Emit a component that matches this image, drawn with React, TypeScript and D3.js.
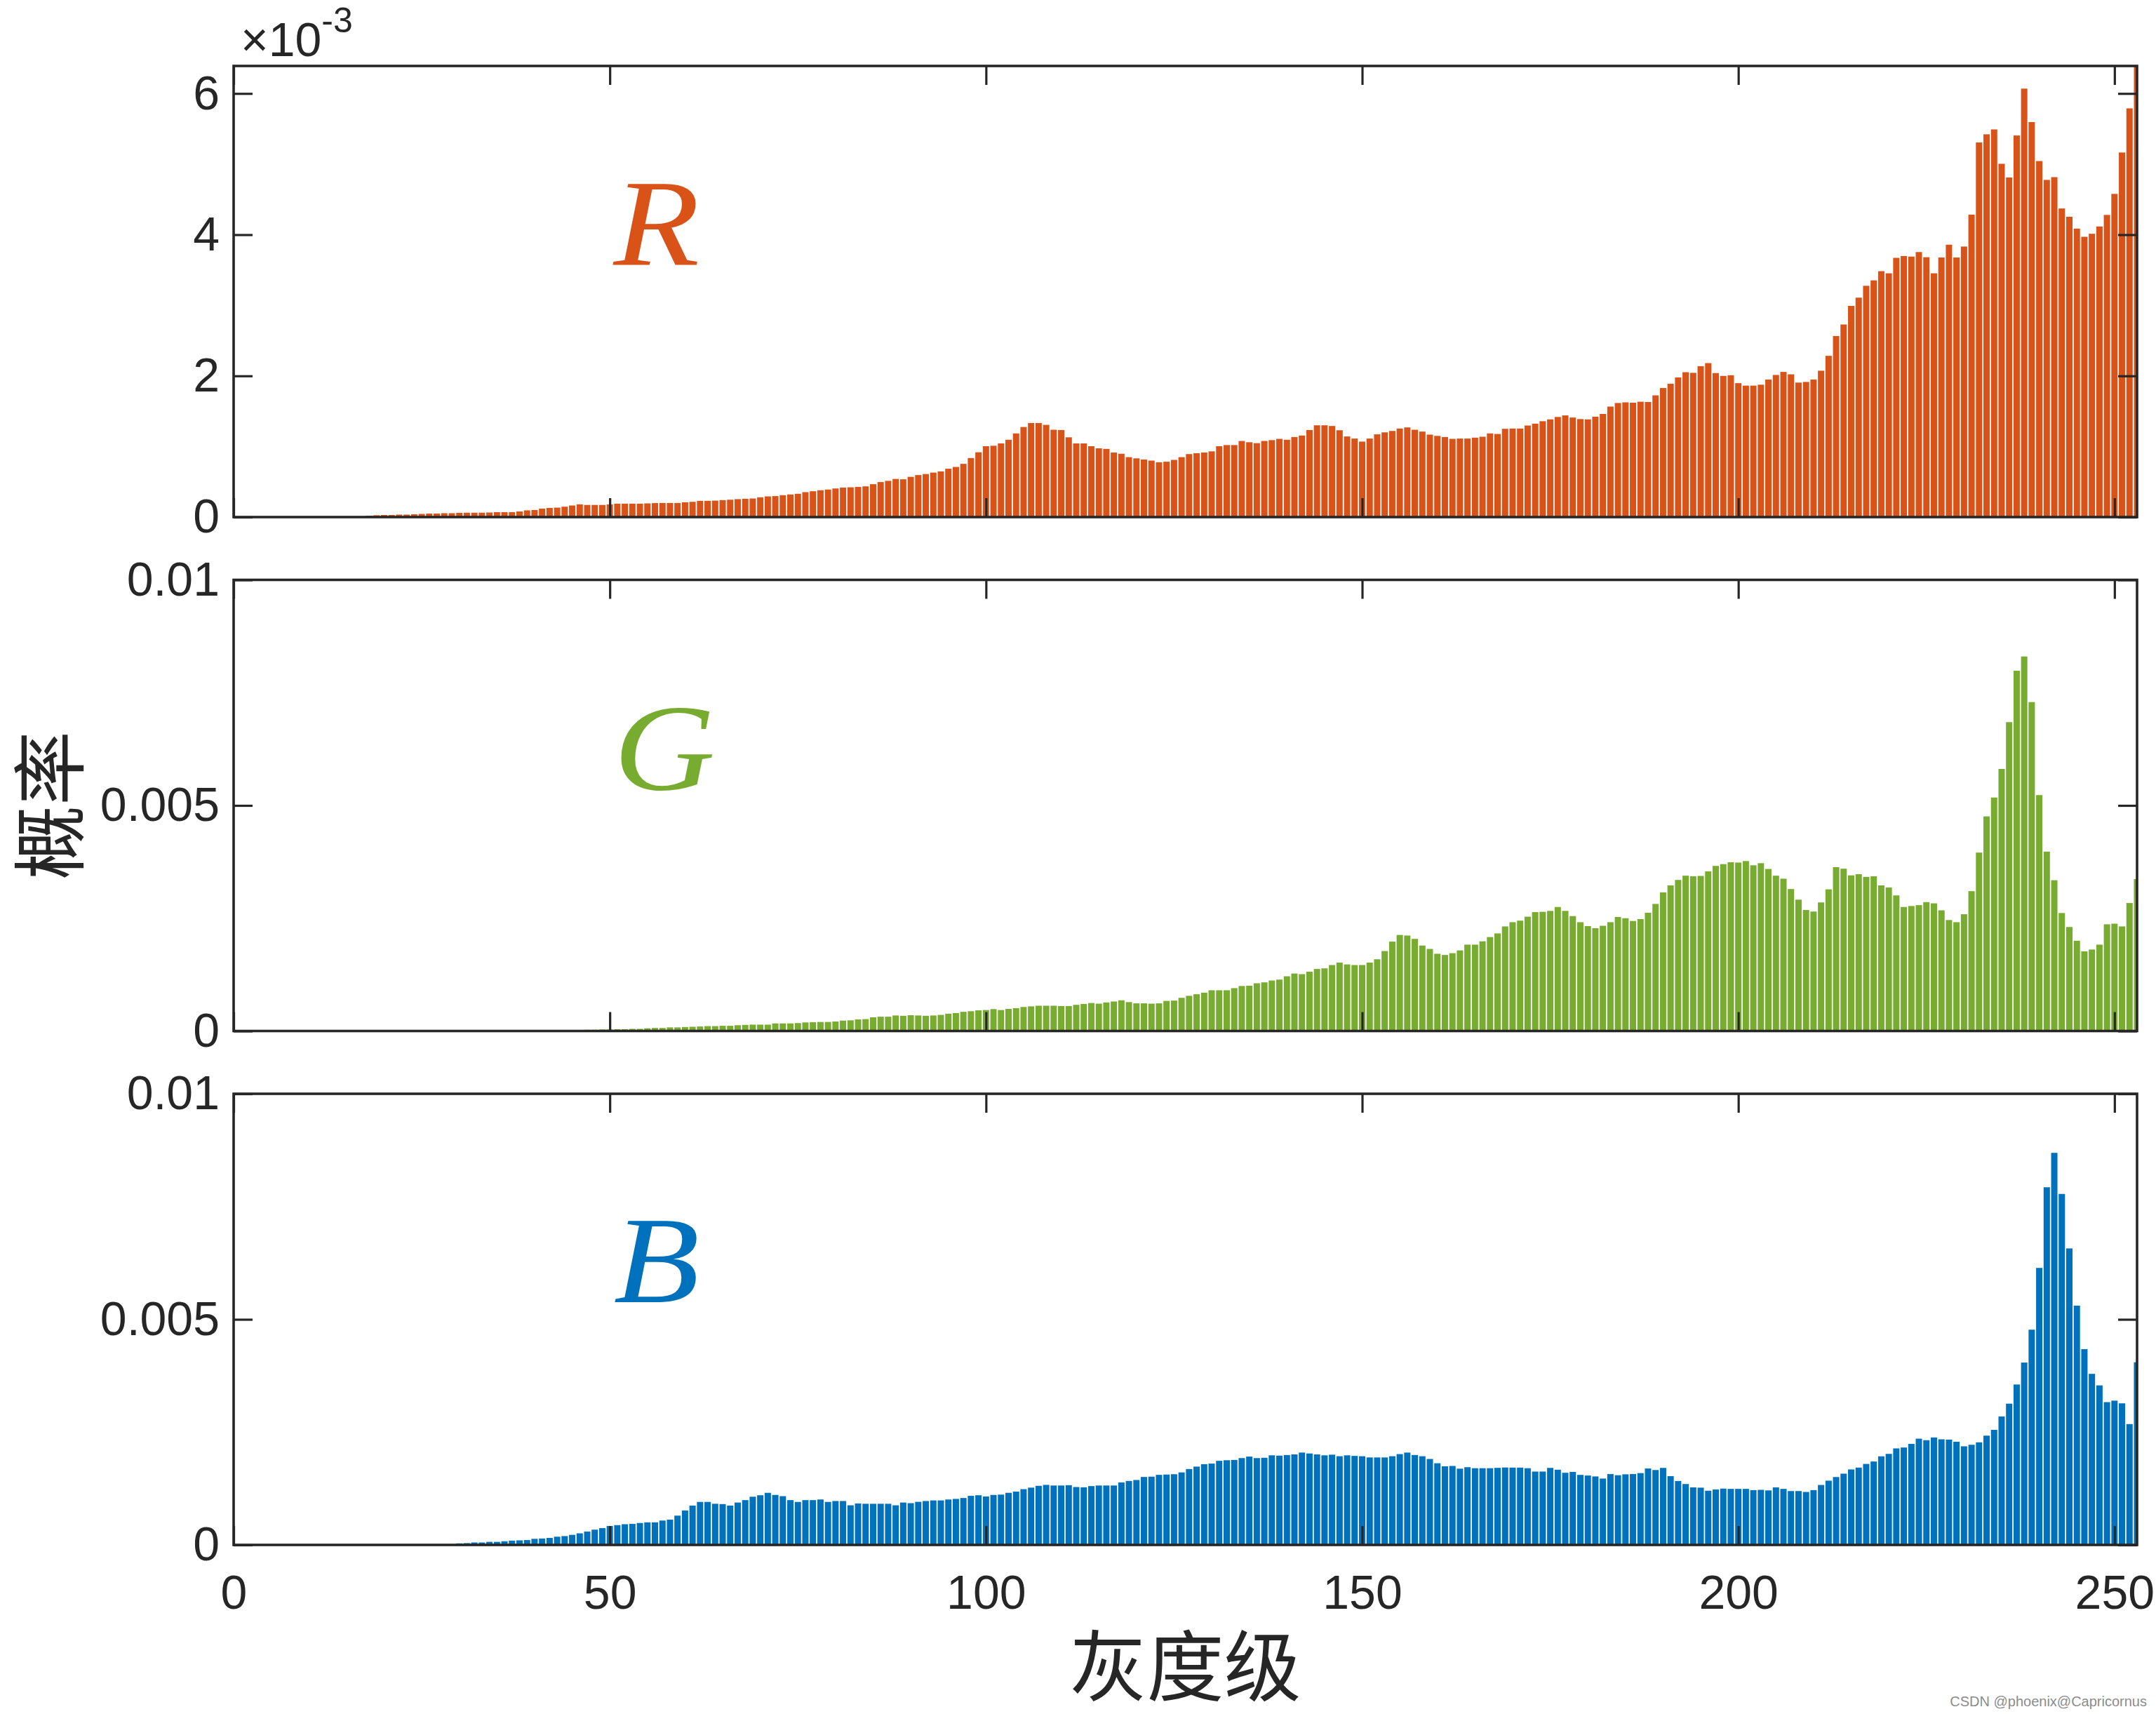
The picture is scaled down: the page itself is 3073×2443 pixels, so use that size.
import {default as React, useEffect, useRef} from "react";
import * as d3 from "d3";

// histogram probabilities (in units of 1e-3) for gray levels 0..253
const redHist = [
    0, 0, 0, 0, 0, 0, 0, 0, 0, 0,
    0, 0, 0, 0, 0, 0, 0, 0, 0.020, 0.026,
    0.030, 0.030, 0.035, 0.035, 0.040, 0.045, 0.050, 0.050, 0.055, 0.055,
    0.060, 0.062, 0.062, 0.062, 0.065, 0.070, 0.070, 0.070, 0.080, 0.095,
    0.100, 0.120, 0.130, 0.134, 0.147, 0.164, 0.180, 0.172, 0.172, 0.172,
    0.180, 0.190, 0.190, 0.190, 0.190, 0.194, 0.198, 0.200, 0.200, 0.200,
    0.210, 0.216, 0.230, 0.230, 0.233, 0.240, 0.246, 0.254, 0.259, 0.263,
    0.280, 0.293, 0.297, 0.310, 0.320, 0.330, 0.353, 0.366, 0.380, 0.390,
    0.405, 0.418, 0.422, 0.427, 0.435, 0.466, 0.496, 0.513, 0.540, 0.535,
    0.570, 0.595, 0.610, 0.630, 0.647, 0.685, 0.710, 0.754, 0.836, 0.918,
    1.004, 1.010, 1.043, 1.095, 1.185, 1.276, 1.332, 1.332, 1.306, 1.237,
    1.233, 1.130, 1.043, 1.043, 1.004, 0.974, 0.966, 0.914, 0.897, 0.849,
    0.832, 0.815, 0.800, 0.776, 0.784, 0.810, 0.849, 0.892, 0.905, 0.914,
    0.931, 1.004, 1.020, 1.020, 1.078, 1.060, 1.047, 1.078, 1.090, 1.108,
    1.095, 1.134, 1.155, 1.233, 1.300, 1.300, 1.290, 1.230, 1.142, 1.112,
    1.069, 1.112, 1.172, 1.200, 1.220, 1.254, 1.270, 1.237, 1.211, 1.168,
    1.150, 1.134, 1.108, 1.112, 1.112, 1.125, 1.138, 1.185, 1.177, 1.250,
    1.254, 1.254, 1.297, 1.323, 1.358, 1.384, 1.418, 1.440, 1.410, 1.388,
    1.384, 1.422, 1.461, 1.565, 1.616, 1.625, 1.620, 1.634, 1.630, 1.724,
    1.828, 1.888, 1.978, 2.052, 2.043, 2.138, 2.181, 2.040, 2.000, 2.009,
    1.897, 1.862, 1.862, 1.875, 1.948, 2.013, 2.056, 2.022, 1.905, 1.914,
    1.948, 2.073, 2.284, 2.565, 2.728, 2.991, 3.108, 3.276, 3.353, 3.483,
    3.453, 3.672, 3.698, 3.690, 3.754, 3.681, 3.453, 3.677, 3.858, 3.677,
    3.832, 4.284, 5.306, 5.422, 5.491, 5.004, 4.810, 5.405, 6.069, 5.595,
    5.043, 4.776, 4.815, 4.371, 4.254, 4.086, 3.970, 4.013, 4.116, 4.280,
    4.578, 5.164, 5.789, 6.600
];

const greenHist = [
    0, 0, 0, 0, 0, 0, 0, 0, 0, 0,
    0, 0, 0, 0, 0, 0, 0, 0, 0, 0,
    0, 0, 0, 0, 0, 0, 0, 0, 0, 0,
    0, 0, 0, 0, 0, 0, 0, 0, 0, 0,
    0, 0, 0, 0, 0, 0, 0, 0.027, 0.027, 0.034,
    0.034, 0.040, 0.040, 0.047, 0.047, 0.060, 0.067, 0.067, 0.080, 0.080,
    0.088, 0.094, 0.100, 0.108, 0.108, 0.115, 0.115, 0.128, 0.135, 0.141,
    0.141, 0.141, 0.168, 0.168, 0.168, 0.175, 0.190, 0.195, 0.200, 0.200,
    0.210, 0.230, 0.236, 0.256, 0.263, 0.303, 0.317, 0.317, 0.344, 0.337,
    0.350, 0.344, 0.337, 0.344, 0.357, 0.384, 0.398, 0.425, 0.438, 0.458,
    0.465, 0.485, 0.465, 0.490, 0.505, 0.532, 0.546, 0.560, 0.560, 0.560,
    0.553, 0.553, 0.580, 0.600, 0.620, 0.606, 0.633, 0.654, 0.680, 0.640,
    0.613, 0.613, 0.606, 0.613, 0.667, 0.674, 0.735, 0.780, 0.815, 0.850,
    0.903, 0.903, 0.903, 0.950, 0.997, 1.004, 1.058, 1.078, 1.119, 1.139,
    1.213, 1.274, 1.260, 1.314, 1.375, 1.388, 1.462, 1.516, 1.476, 1.462,
    1.462, 1.516, 1.590, 1.772, 1.981, 2.129, 2.116, 2.042, 1.894, 1.819,
    1.712, 1.685, 1.725, 1.786, 1.914, 1.914, 1.988, 2.082, 2.163, 2.318,
    2.412, 2.446, 2.534, 2.635, 2.642, 2.662, 2.749, 2.662, 2.547, 2.412,
    2.325, 2.278, 2.332, 2.412, 2.527, 2.500, 2.439, 2.480, 2.621, 2.817,
    3.073, 3.228, 3.349, 3.443, 3.430, 3.437, 3.538, 3.659, 3.699, 3.740,
    3.733, 3.767, 3.673, 3.720, 3.592, 3.443, 3.376, 3.147, 2.911, 2.682,
    2.648, 2.850, 3.140, 3.632, 3.598, 3.450, 3.477, 3.416, 3.430, 3.228,
    3.181, 3.005, 2.749, 2.770, 2.790, 2.857, 2.830, 2.675, 2.460, 2.412,
    2.588, 3.100, 3.955, 4.757, 5.175, 5.809, 6.846, 7.985, 8.302, 7.291,
    5.229, 3.976, 3.342, 2.615, 2.305, 2.001, 1.765, 1.806, 1.914, 2.365,
    2.379, 2.318, 2.837, 3.369
];

const blueHist = [
    0, 0, 0, 0, 0, 0, 0, 0, 0, 0,
    0, 0, 0, 0, 0, 0, 0, 0, 0, 0,
    0, 0, 0, 0, 0, 0, 0, 0, 0, 0,
    0.034, 0.040, 0.054, 0.054, 0.068, 0.068, 0.081, 0.095, 0.101, 0.108,
    0.135, 0.142, 0.155, 0.182, 0.196, 0.223, 0.257, 0.297, 0.338, 0.372,
    0.419, 0.439, 0.459, 0.466, 0.486, 0.500, 0.500, 0.540, 0.561, 0.649,
    0.764, 0.872, 0.953, 0.953, 0.912, 0.905, 0.872, 0.939, 0.993, 1.068,
    1.101, 1.155, 1.108, 1.081, 0.993, 0.953, 0.993, 0.993, 1.007, 0.953,
    0.973, 0.973, 0.878, 0.919, 0.912, 0.912, 0.912, 0.912, 0.878, 0.939,
    0.926, 0.955, 0.973, 0.986, 0.986, 1.007, 1.020, 1.040, 1.088, 1.101,
    1.074, 1.108, 1.115, 1.155, 1.182, 1.236, 1.270, 1.310, 1.331, 1.317,
    1.317, 1.324, 1.283, 1.277, 1.304, 1.317, 1.317, 1.317, 1.385, 1.418,
    1.439, 1.506, 1.513, 1.553, 1.560, 1.567, 1.607, 1.682, 1.736, 1.790,
    1.803, 1.864, 1.877, 1.884, 1.925, 1.958, 1.925, 1.932, 1.986, 1.979,
    1.993, 2.006, 2.047, 2.027, 2.006, 1.986, 2.000, 1.966, 1.986, 1.973,
    1.966, 1.939, 1.939, 1.939, 1.966, 2.013, 2.047, 1.993, 1.966, 1.905,
    1.810, 1.743, 1.750, 1.690, 1.723, 1.700, 1.700, 1.700, 1.708, 1.716,
    1.714, 1.714, 1.700, 1.626, 1.626, 1.707, 1.667, 1.599, 1.619, 1.552,
    1.538, 1.518, 1.471, 1.572, 1.545, 1.565, 1.572, 1.592, 1.694, 1.660,
    1.707, 1.525, 1.417, 1.350, 1.275, 1.269, 1.201, 1.228, 1.248, 1.242,
    1.242, 1.242, 1.215, 1.221, 1.208, 1.275, 1.242, 1.194, 1.194, 1.174,
    1.215, 1.329, 1.424, 1.505, 1.579, 1.673, 1.714, 1.795, 1.849, 1.964,
    2.018, 2.139, 2.159, 2.240, 2.355, 2.321, 2.382, 2.341, 2.335, 2.287,
    2.186, 2.220, 2.274, 2.422, 2.551, 2.848, 3.131, 3.556, 4.042, 4.771,
    6.140, 7.928, 8.691, 7.780, 6.572, 5.304, 4.339, 3.792, 3.536, 3.165,
    3.198, 3.138, 2.679, 4.049
];

const channelNames = ["R", "G", "B"];
const channelColors = ["#D95319", "#77AC30", "#0072BD"];
const yMax = [0.00639, 0.01, 0.01];
const yTicks = [[0, 0.002, 0.004, 0.006], [0, 0.005, 0.01], [0, 0.005, 0.01]];
const labelY = [0.00357, 0.00536, 0.00538];
const labelX = 50.5;
const xTicks = [0, 50, 100, 150, 200, 250];
const xMax = 253;

const xLabel = "灰度级";
const yLabel = "概率";
const watermark = "CSDN @phoenix@Capricornus";

const width = 3073;
const height = 2443;
const margin = {left: 333, right: 27};
const panelTops = [94, 826.5, 1559];
const panelHeight = 643;
const tickLen = 27;
const ink = "#262626";
const tickFont = "'Liberation Sans', Arial, Helvetica, sans-serif";
const cjkFont = "'Noto Sans CJK SC', sans-serif";

export default function App() {
    const containerRef = useRef<SVGSVGElement>(null);

    useEffect(() => {
        drawPlot();
    }, []);

    function styleAxis(g: d3.Selection<SVGGElement, unknown, null, undefined>) {
        g.select(".domain").remove();
        g.attr("font-family", tickFont).attr("font-size", 68);
        g.selectAll(".tick line").attr("stroke", ink).attr("stroke-width", 3.2);
        g.selectAll(".tick text").attr("fill", ink);
    }

    function drawPlot() {
        const svg = d3.select(containerRef.current);
        svg.selectAll("*").remove();

        const x = d3.scaleLinear()
            .domain([0, xMax])
            .range([margin.left, width - margin.right]);
        const barW = x(0.84) - x(0);

        const series = [redHist, greenHist, blueHist];

        series.forEach((vals, k) => {
            const top = panelTops[k];
            const bottom = top + panelHeight;
            const y = d3.scaleLinear()
                .domain([0, yMax[k]])
                .range([bottom, top]);

            const clipId = `clip-panel-${k}`;
            svg.append("clipPath")
                .attr("id", clipId)
                .append("rect")
                .attr("x", x(0))
                .attr("y", top)
                .attr("width", x(xMax) - x(0))
                .attr("height", panelHeight);

            svg.append("g")
                .attr("clip-path", `url(#${clipId})`)
                .selectAll("rect")
                .data(vals)
                .join("rect")
                .attr("x", (d, i) => x(i) - barW / 2)
                .attr("y", d => y(d * 1e-3))
                .attr("width", barW)
                .attr("height", d => bottom - y(d * 1e-3))
                .attr("fill", channelColors[k]);

            const fmt = k === 0
                ? (d: d3.NumberValue) => String(Math.round(+d * 1000))
                : (d: d3.NumberValue) => String(+d);

            // left axis with labels, ticks pointing inwards
            const left = svg.append("g")
                .attr("transform", `translate(${x(0)},0)`)
                .call(d3.axisLeft(y).tickValues(yTicks[k]).tickSize(-tickLen).tickSizeOuter(0).tickPadding(20).tickFormat(fmt));
            styleAxis(left);

            // mirrored right ticks
            const right = svg.append("g")
                .attr("transform", `translate(${x(xMax)},0)`)
                .call(d3.axisRight(y).tickValues(yTicks[k]).tickSize(-tickLen).tickSizeOuter(0).tickFormat(() => ""));
            styleAxis(right);

            const topAxis = svg.append("g")
                .attr("transform", `translate(0,${top})`)
                .call(d3.axisTop(x).tickValues(xTicks).tickSize(-tickLen).tickSizeOuter(0).tickFormat(() => ""));
            styleAxis(topAxis);

            const bottomAxis = svg.append("g")
                .attr("transform", `translate(0,${bottom})`)
                .call(d3.axisBottom(x).tickValues(xTicks).tickSize(-tickLen).tickSizeOuter(0).tickPadding(43)
                    .tickFormat(k === 2 ? d3.format("d") : () => ""));
            styleAxis(bottomAxis);

            svg.append("rect")
                .attr("x", x(0))
                .attr("y", top)
                .attr("width", x(xMax) - x(0))
                .attr("height", panelHeight)
                .attr("fill", "none")
                .attr("stroke", ink)
                .attr("stroke-width", 3.6);

            // channel name, slightly widened to resemble the TeX italic
            svg.append("text")
                .attr("transform", `translate(${x(labelX)},${y(labelY[k])}) scale(1.14,1)`)
                .attr("font-family", "'Liberation Serif', 'Times New Roman', serif")
                .attr("font-style", "italic")
                .attr("font-size", 176)
                .attr("fill", channelColors[k])
                .text(channelNames[k]);
        });

        // exponent of the top panel
        const expText = svg.append("text")
            .attr("x", 343)
            .attr("y", 80)
            .attr("font-family", tickFont)
            .attr("font-size", 68)
            .attr("fill", ink);
        expText.append("tspan").text("×10");
        expText.append("tspan").attr("dy", -34).attr("font-size", 50).text("-3");

        svg.append("text")
            .attr("transform", `translate(64,${panelTops[1] + panelHeight / 2}) rotate(-90)`)
            .attr("text-anchor", "middle")
            .attr("dominant-baseline", "central")
            .attr("font-family", cjkFont)
            .attr("font-size", 106)
            .attr("fill", ink)
            .text(yLabel);

        svg.append("text")
            .attr("x", (x(0) + x(xMax)) / 2)
            .attr("y", 2416)
            .attr("text-anchor", "middle")
            .attr("font-family", cjkFont)
            .attr("font-size", 110)
            .attr("fill", ink)
            .text(xLabel);

        svg.append("text")
            .attr("x", 3060)
            .attr("y", 2432)
            .attr("text-anchor", "end")
            .attr("font-family", tickFont)
            .attr("font-size", 20)
            .attr("fill", "#8c8c8c")
            .text(watermark);
    }

    return (
        <svg
            width={width}
            height={height}
            style={{backgroundColor: "white", position: "absolute", left: 0, top: 0}}
            ref={containerRef}
        />
    );
}
